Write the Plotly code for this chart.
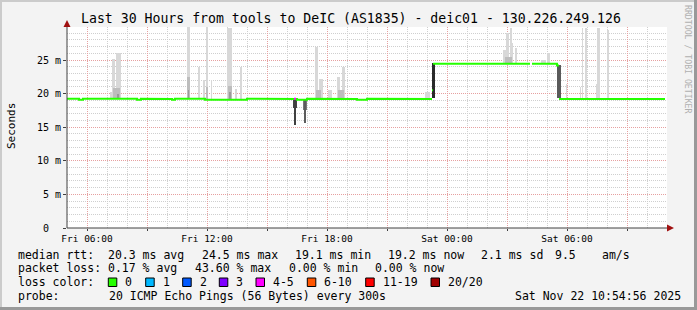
import plotly.graph_objects as go
from datetime import datetime, timedelta

# ---------------- data ----------------
DAYS = {"Fri": "2025-11-21", "Sat": "2025-11-22"}

# median RTT (ms) step breakpoints: time, value (None = no data)
median_times = ["Fri 05:00", "Fri 05:36", "Fri 05:48", "Fri 07:00", "Fri 07:45", "Fri 08:30",
                "Fri 08:42", "Fri 09:30", "Fri 10:15", "Fri 10:24", "Fri 11:54", "Fri 12:03",
                "Fri 13:45", "Fri 14:00", "Fri 15:30", "Fri 16:30", "Fri 17:00", "Fri 18:30",
                "Fri 19:30", "Fri 20:00", "Fri 21:30", "Fri 23:15", "Fri 23:18", "Sat 04:09",
                "Sat 04:15", "Sat 05:30", "Sat 05:36", "Sat 10:54"]
median_values = [19.25, 19.1, 19.25, 19.2, 19.25, 19.1,
                 19.25, 19.2, 19.1, 19.25, 19.1, 19.2,
                 19.1, 19.25, 19.2, 19.1, 19.25, 19.2,
                 19.1, 19.25, 19.2, 20.5, 24.45, None,
                 24.45, 24.2, 19.2, 19.2]

# interval with packet loss (loss colour 4-5)
loss_start = ["Fri 16:21"]
loss_end = ["Fri 16:27"]
loss_value = [19.25]

# smoke: light outer range (start, end, low, high) in ms
smoke_start = ["Fri 07:09", "Fri 07:15", "Fri 07:27", "Fri 11:00", "Fri 11:33", "Fri 11:48",
               "Fri 11:57", "Fri 12:12", "Fri 13:00", "Fri 13:24", "Fri 13:39", "Fri 17:24",
               "Fri 17:36", "Fri 18:03", "Fri 18:30", "Fri 18:45", "Fri 22:54",
               "Sat 02:48", "Sat 02:57", "Sat 03:09", "Sat 03:15", "Sat 03:26", "Sat 04:42",
               "Sat 05:00", "Sat 05:57", "Sat 06:39", "Sat 06:45", "Sat 06:54", "Sat 07:27",
               "Sat 07:30", "Sat 08:00"]
smoke_end = ["Fri 07:15", "Fri 07:24", "Fri 07:42", "Fri 11:09", "Fri 11:39", "Fri 11:54",
             "Fri 12:03", "Fri 12:15", "Fri 13:15", "Fri 13:30", "Fri 13:45", "Fri 17:33",
             "Fri 17:48", "Fri 18:15", "Fri 18:39", "Fri 18:54", "Fri 23:09",
             "Sat 02:57", "Sat 03:06", "Sat 03:15", "Sat 03:18", "Sat 03:30", "Sat 04:57",
             "Sat 05:09", "Sat 06:00", "Sat 06:42", "Sat 06:48", "Sat 07:00", "Sat 07:30",
             "Sat 07:39", "Sat 08:06"]
smoke_low = [19.2] * 17 + [24.4] * 7 + [19.2] * 7
smoke_high = [20.3, 25.1, 26.1, 29.9, 23.9, 22.0,
              29.9, 22.0, 29.7, 20.7, 24.0, 27.0,
              22.2, 20.5, 22.4, 24.0, 20.3,
              26.5, 29.0, 29.7, 27.5, 26.8, 25.0,
              26.0, 21.5, 21.0, 29.7, 29.7, 21.5,
              29.7, 29.5]

# smoke: inner (denser) range
inner_start = ["Fri 07:18", "Fri 11:00", "Fri 11:57", "Fri 13:03", "Fri 17:27", "Fri 18:33", "Sat 02:54"]
inner_end = ["Fri 07:39", "Fri 11:09", "Fri 12:03", "Fri 13:15", "Fri 17:42", "Fri 18:51", "Sat 03:15"]
inner_low = [19.2, 19.2, 19.2, 19.2, 19.2, 19.2, 24.4]
inner_high = [20.8, 22.5, 21.0, 21.2, 20.6, 20.6, 25.4]

core_start = ["Fri 07:30", "Fri 11:03", "Fri 13:06"]
core_end = ["Fri 07:36", "Fri 11:06", "Fri 13:12"]
core_low = [19.2, 19.2, 19.2]
core_high = [20.0, 20.5, 20.2]

# dark smoke: dips and level changes
dark_start = ["Fri 16:19", "Fri 16:22", "Fri 16:47", "Fri 16:52", "Fri 23:15", "Sat 05:30"]
dark_end = ["Fri 16:29", "Fri 16:27", "Fri 16:59", "Fri 16:57", "Fri 23:24", "Sat 05:42"]
dark_low = [17.8, 15.4, 17.5, 15.6, 19.3, 19.3]
dark_high = [19.2, 19.2, 19.0, 19.0, 24.5, 24.3]
dark_color = ["#444444", "#404040", "#777777", "#5c5c5c", "#2a2a2a", "#5a5a5a"]

y_tick_values = [0, 5, 10, 15, 20, 25]
y_tick_labels = ["0\u00a0\u00a0", "5 m", "10 m", "15 m", "20 m", "25 m"]

x_tick_times = ["Fri 06:00", "Fri 09:00", "Fri 12:00", "Fri 15:00", "Fri 18:00", "Fri 21:00",
                "Sat 00:00", "Sat 03:00", "Sat 06:00", "Sat 09:00"]
x_tick_labels = ["Fri 06:00", "", "Fri 12:00", "", "Fri 18:00", "", "Sat 00:00", "", "Sat 06:00", ""]

loss_labels = ["0", "1", "2", "3", "4-5", "6-10", "11-19", "20/20"]
loss_colors = ["#26ff00", "#00b8ff", "#0059ff", "#7e00ff", "#ff00ff", "#ff5500", "#ff0000", "#a00000"]

title = "Last 30 Hours from tools to DeIC (AS1835) - deic01 - 130.226.249.126"
rtt_items = ["median rtt:  20.3 ms avg", "24.5 ms max", "19.1 ms min", "19.2 ms now", "2.1 ms sd", "9.5", "am/s"]
loss_items = ["packet loss: 0.17 % avg", "43.60 % max", "0.00 % min", "0.00 % now"]
probe_items = ["probe:", "20 ICMP Echo Pings (56 Bytes) every 300s", "Sat Nov 22 10:54:56 2025"]


# ---------------- helpers ----------------
def ts(s):
    d, hm = s.split()
    return datetime.fromisoformat(f"{DAYS[d]} {hm}")


X_START = ts("Fri 05:00")
X_END = ts("Sat 11:00")

W, H = 697, 310
L, R, T, B = 67, 30, 27, 82
PW, PH = W - L - R, H - T - B


def fx(px):
    return (px - L) / PW


def fy(py):
    return (H - B - py) / PH


MONO = "DejaVu Sans Mono"

fig = go.Figure()


def add_ranges(starts, ends, lows, highs, colors):
    if isinstance(colors, str):
        colors = [colors] * len(starts)
    mids, widths = [], []
    for s, e in zip(starts, ends):
        a, b = ts(s), ts(e)
        mids.append(a + (b - a) / 2)
        widths.append((b - a).total_seconds() * 1000)
    fig.add_trace(go.Bar(
        x=mids, y=[h - l for l, h in zip(lows, highs)], base=lows, width=widths,
        marker=dict(color=colors, line=dict(width=0)), showlegend=False, hoverinfo="skip"))


add_ranges(smoke_start, smoke_end, smoke_low, smoke_high, "#d8d8d8")
add_ranges(inner_start, inner_end, inner_low, inner_high, "#bdbdbd")
add_ranges(core_start, core_end, core_low, core_high, "#9a9a9a")
add_ranges(dark_start, dark_end, dark_low, dark_high, dark_color)

# median line as steps; break at large jumps (those are shown by the dark smoke)
lx, ly = [], []
for i in range(len(median_times) - 1):
    v = median_values[i]
    if v is None:
        lx.append(ts(median_times[i])); ly.append(None)
        continue
    lx += [ts(median_times[i]), ts(median_times[i + 1])]
    ly += [v, v]
    nv = median_values[i + 1]
    if nv is not None and abs(nv - v) > 1:
        lx.append(ts(median_times[i + 1])); ly.append(None)
fig.add_trace(go.Scatter(x=lx, y=ly, mode="lines", line=dict(color="#26ff00", width=2),
                         connectgaps=False, showlegend=False, hoverinfo="skip"))

for s, e, v in zip(loss_start, loss_end, loss_value):
    fig.add_trace(go.Scatter(x=[ts(s), ts(e)], y=[v, v], mode="lines",
                             line=dict(color=loss_colors[4], width=2),
                             showlegend=False, hoverinfo="skip"))

grid_minor = "#cfcfcf"
grid_major = "#e6a0a0"

fig.update_layout(
    width=W, height=H, autosize=False,
    margin=dict(l=L, r=R, t=T, b=B, pad=0),
    paper_bgcolor="#f3f3f3", plot_bgcolor="#ffffff",
    barmode="overlay", bargap=0,
    font=dict(family=MONO, color="#000000"),
    showlegend=False,
    xaxis=dict(
        type="date", range=[X_START, X_END],
        tickmode="array", tickvals=[ts(t) for t in x_tick_times], ticktext=x_tick_labels,
        tickfont=dict(family=MONO, size=9.5, color="#000000"),
        ticks="outside", ticklen=2, tickcolor="#404040",
        showgrid=True, gridcolor=grid_major, griddash="1px,1px", gridwidth=1,
        minor=dict(dtick=3600000, tick0=X_START, showgrid=True, gridcolor=grid_minor,
                   griddash="1px,1px", gridwidth=1),
        showline=False, zeroline=False, fixedrange=True,
    ),
    yaxis=dict(
        range=[0, PH / 6.72], tickmode="array", tickvals=y_tick_values, ticktext=y_tick_labels,
        tickfont=dict(family=MONO, size=10, color="#000000"),
        ticks="outside", ticklen=3, tickcolor="#404040",
        showgrid=True, gridcolor=grid_major, griddash="1px,1px", gridwidth=1,
        minor=dict(dtick=1, tick0=0, showgrid=True, gridcolor=grid_minor,
                   griddash="1px,1px", gridwidth=1),
        showline=False, zeroline=False, fixedrange=True,
    ),
)

shapes = []
# frame around the image
shapes.append(dict(type="line", xref="paper", yref="paper", x0=fx(0), x1=fx(W), y0=fy(1), y1=fy(1),
                   line=dict(color="#cbcbcb", width=2)))
shapes.append(dict(type="line", xref="paper", yref="paper", x0=fx(1), x1=fx(1), y0=fy(0), y1=fy(H),
                   line=dict(color="#cbcbcb", width=2)))
shapes.append(dict(type="line", xref="paper", yref="paper", x0=fx(0), x1=fx(W), y0=fy(H - 1.5), y1=fy(H - 1.5),
                   line=dict(color="#999999", width=3)))
shapes.append(dict(type="line", xref="paper", yref="paper", x0=fx(W - 1.5), x1=fx(W - 1.5), y0=fy(0), y1=fy(H),
                   line=dict(color="#999999", width=3)))
# axes
shapes.append(dict(type="line", xref="paper", yref="paper", x0=0, x1=0, y0=0, y1=fy(24),
                   line=dict(color="#404040", width=1)))
shapes.append(dict(type="line", xref="paper", yref="paper", x0=0, x1=fx(670), y0=0, y1=0,
                   line=dict(color="#404040", width=1)))
# arrow heads
shapes.append(dict(type="path", xref="paper", yref="paper",
                   path=f"M {fx(63.5)} {fy(27)} L {fx(70.5)} {fy(27)} L {fx(67)} {fy(20)} Z",
                   fillcolor="#a01010", line=dict(color="#a01010", width=0)))
shapes.append(dict(type="path", xref="paper", yref="paper",
                   path=f"M {fx(667)} {fy(224.5)} L {fx(667)} {fy(231.5)} L {fx(674)} {fy(228)} Z",
                   fillcolor="#a01010", line=dict(color="#a01010", width=0)))

annotations = []


def ann(text, px, py, size=11.5, xanchor="left", color="#000000", angle=0):
    annotations.append(dict(text=text.replace(" ", "\u00a0"), x=fx(px), y=fy(py), xref="paper", yref="paper",
                            xanchor=xanchor, yanchor="middle", showarrow=False, textangle=angle,
                            font=dict(family=MONO, size=size, color=color)))


ann(title, 351, 19, size=13.2, xanchor="center")
ann("Seconds", 11, 126, size=11, xanchor="center", angle=-90)
ann("RRDTOOL / TOBI OETIKER", 688, 59, size=8.2, xanchor="center", color="#b0b0b0", angle=90)

# legend rows
rtt_x = [16, 200, 293.3, 386, 479.3, 553.3, 600]
for t, x in zip(rtt_items, rtt_x):
    ann(t, x, 254.5)
loss_x = [16, 192.9, 286.5, 372.8]
for t, x in zip(loss_items, loss_x):
    ann(t, x, 268)
ann("loss color:", 16, 282)
box_x = [108.3, 145.7, 182.7, 219.3, 256, 307.3, 365.7, 431]
for lbl, col, bx in zip(loss_labels, loss_colors, box_x):
    shapes.append(dict(type="rect", xref="paper", yref="paper", x0=fx(bx), x1=fx(bx + 8.5),
                       y0=fy(286.5), y1=fy(278), fillcolor=col, line=dict(color="#000000", width=1)))
    ann(lbl, bx + 15, 282)
probe_x = [16, 107.3, 513.3]
for t, x in zip(probe_items, probe_x):
    ann(t, x, 295.5)

fig.update_layout(shapes=shapes, annotations=annotations)

fig.write_html("out.html")
